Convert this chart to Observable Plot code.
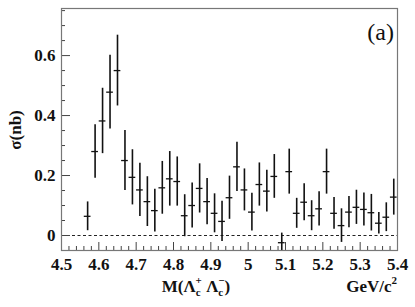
<!DOCTYPE html>
<html>
<head>
<meta charset="utf-8">
<script src="https://cdn.jsdelivr.net/npm/d3@7"></script>
<script src="https://cdn.jsdelivr.net/npm/@observablehq/plot@0.6"></script>
<style>
  body { margin: 0; background: #fff; }
  svg text { font-family: "Liberation Serif", "DejaVu Serif", serif; }
</style>
</head>
<body>
<div id="chart"></div>
<script>
const masses = [4.57, 4.59, 4.61, 4.63, 4.65, 4.67, 4.69, 4.71, 4.73, 4.75, 4.77, 4.79, 4.81, 4.83,
  4.85, 4.87, 4.89, 4.91, 4.93, 4.95, 4.97, 4.99, 5.01, 5.03, 5.05, 5.07, 5.09, 5.11,
  5.13, 5.15, 5.17, 5.19, 5.21, 5.23, 5.25, 5.27, 5.29, 5.31, 5.33, 5.35, 5.37, 5.39];
const sigma = [0.064, 0.280, 0.382, 0.478, 0.550, 0.250, 0.194, 0.152, 0.113, 0.083, 0.159, 0.189, 0.180, 0.066,
  0.100, 0.157, 0.113, 0.074, 0.047, 0.126, 0.229, 0.152, 0.078, 0.170, 0.148, 0.197, -0.024, 0.213,
  0.074, 0.111, 0.066, 0.089, 0.213, 0.074, 0.033, 0.078, 0.094, 0.087, 0.076, 0.041, 0.061, 0.128];
const errors = [0.048, 0.089, 0.109, 0.123, 0.118, 0.100, 0.092, 0.089, 0.083, 0.071, 0.088, 0.091, 0.082, 0.070,
  0.075, 0.082, 0.077, 0.065, 0.067, 0.072, 0.082, 0.070, 0.063, 0.072, 0.070, 0.073, 0.032, 0.075,
  0.050, 0.062, 0.050, 0.057, 0.075, 0.053, 0.056, 0.052, 0.057, 0.055, 0.061, 0.036, 0.048, 0.060];
const halfBin = 0.009;

const xTicks = [4.5, 4.6, 4.7, 4.8, 4.9, 5, 5.1, 5.2, 5.3, 5.4];
const xMinor = [4.52, 4.54, 4.56, 4.58, 4.62, 4.64, 4.66, 4.68, 4.72, 4.74, 4.76, 4.78,
  4.82, 4.84, 4.86, 4.88, 4.92, 4.94, 4.96, 4.98, 5.02, 5.04, 5.06, 5.08,
  5.12, 5.14, 5.16, 5.18, 5.22, 5.24, 5.26, 5.28, 5.32, 5.34, 5.36, 5.38];
const yTicks = [0, 0.2, 0.4, 0.6];
const yTickLabels = ["0", "0.2", "0.4", "0.6"];
const yMinor = [-0.05, 0.05, 0.1, 0.15, 0.25, 0.3, 0.35, 0.45, 0.5, 0.55, 0.65, 0.7, 0.75];

const data = masses.map((m, i) => ({m, s: sigma[i], e: errors[i]}));

const W = 415, H = 307, ML = 61, MR = 18, MT = 8, MB = 57;
const PW = W - ML - MR, PH = H - MT - MB;
const ink = "#111";

const svg = Plot.plot({
  width: W, height: H,
  marginLeft: ML, marginRight: MR, marginTop: MT, marginBottom: MB,
  x: {domain: [4.5, 5.4]},
  y: {domain: [-0.05, 0.757]},
  style: {fontFamily: "'Liberation Serif', serif", fontSize: "17px", fontWeight: "bold", background: "#fff", color: ink},
  marks: [
    Plot.ruleY([0], {stroke: "#222", strokeDasharray: "3,2.5", strokeWidth: 1.2}),
    Plot.tickX(xMinor, {x: d => d, insetTop: PH - 4, stroke: "#444"}),
    Plot.tickX(xTicks, {x: d => d, insetTop: PH - 8, stroke: "#444"}),
    Plot.tickY(yMinor, {y: d => d, insetRight: PW - 4, stroke: "#444"}),
    Plot.tickY(yTicks, {y: d => d, insetRight: PW - 9, stroke: "#444"}),
    Plot.axisX(xTicks, {tickSize: 0, tickPadding: 7, label: null, tickFormat: d => String(d)}),
    Plot.axisY(yTicks, {tickSize: 0, tickPadding: 6, label: null, tickFormat: (d, i) => yTickLabels[i]}),
    Plot.ruleX(data, {x: "m", y1: d => d.s - d.e, y2: d => d.s + d.e, stroke: ink, strokeWidth: 1.6, clip: true}),
    Plot.ruleY(data, {y: "s", x1: d => d.m - halfBin, x2: d => d.m + halfBin, stroke: ink, strokeWidth: 1.3}),
    Plot.frame({stroke: "#777", strokeWidth: 1.2})
  ]
});
document.getElementById("chart").append(svg);

const s = d3.select(svg);
// panel label
s.append("text").attr("x", 394).attr("y", 40).attr("text-anchor", "end")
  .attr("font-size", 24).attr("font-weight", "normal").attr("fill", ink).text("(a)");
// y title
s.append("text").attr("transform", "translate(21,130) rotate(-90)").attr("text-anchor", "middle")
  .attr("font-size", 17).attr("font-weight", "bold").attr("fill", ink).text("σ(nb)");
// x title
const xt = s.append("text").attr("x", 196).attr("y", 292)
  .attr("font-size", 17).attr("font-weight", "bold").attr("fill", ink);
xt.append("tspan").text("M(Λ");
xt.append("tspan").attr("font-size", 11).attr("dy", 4).text("c");
xt.append("tspan").attr("font-size", 11).attr("dx", -5).attr("dy", -12).text("+");
xt.append("tspan").attr("dy", 8).text(" Λ");
xt.append("tspan").attr("font-size", 11).attr("dy", 4).text("c");
xt.append("tspan").attr("font-size", 11).attr("dx", -5).attr("dy", -12).text("−");
xt.append("tspan").attr("dy", 8).text(")");
// units
const ut = s.append("text").attr("x", 397).attr("y", 292).attr("text-anchor", "end")
  .attr("font-size", 17).attr("font-weight", "bold").attr("fill", ink);
ut.append("tspan").text("GeV/c");
ut.append("tspan").attr("font-size", 11).attr("dy", -8).text("2");
</script>
</body>
</html>
